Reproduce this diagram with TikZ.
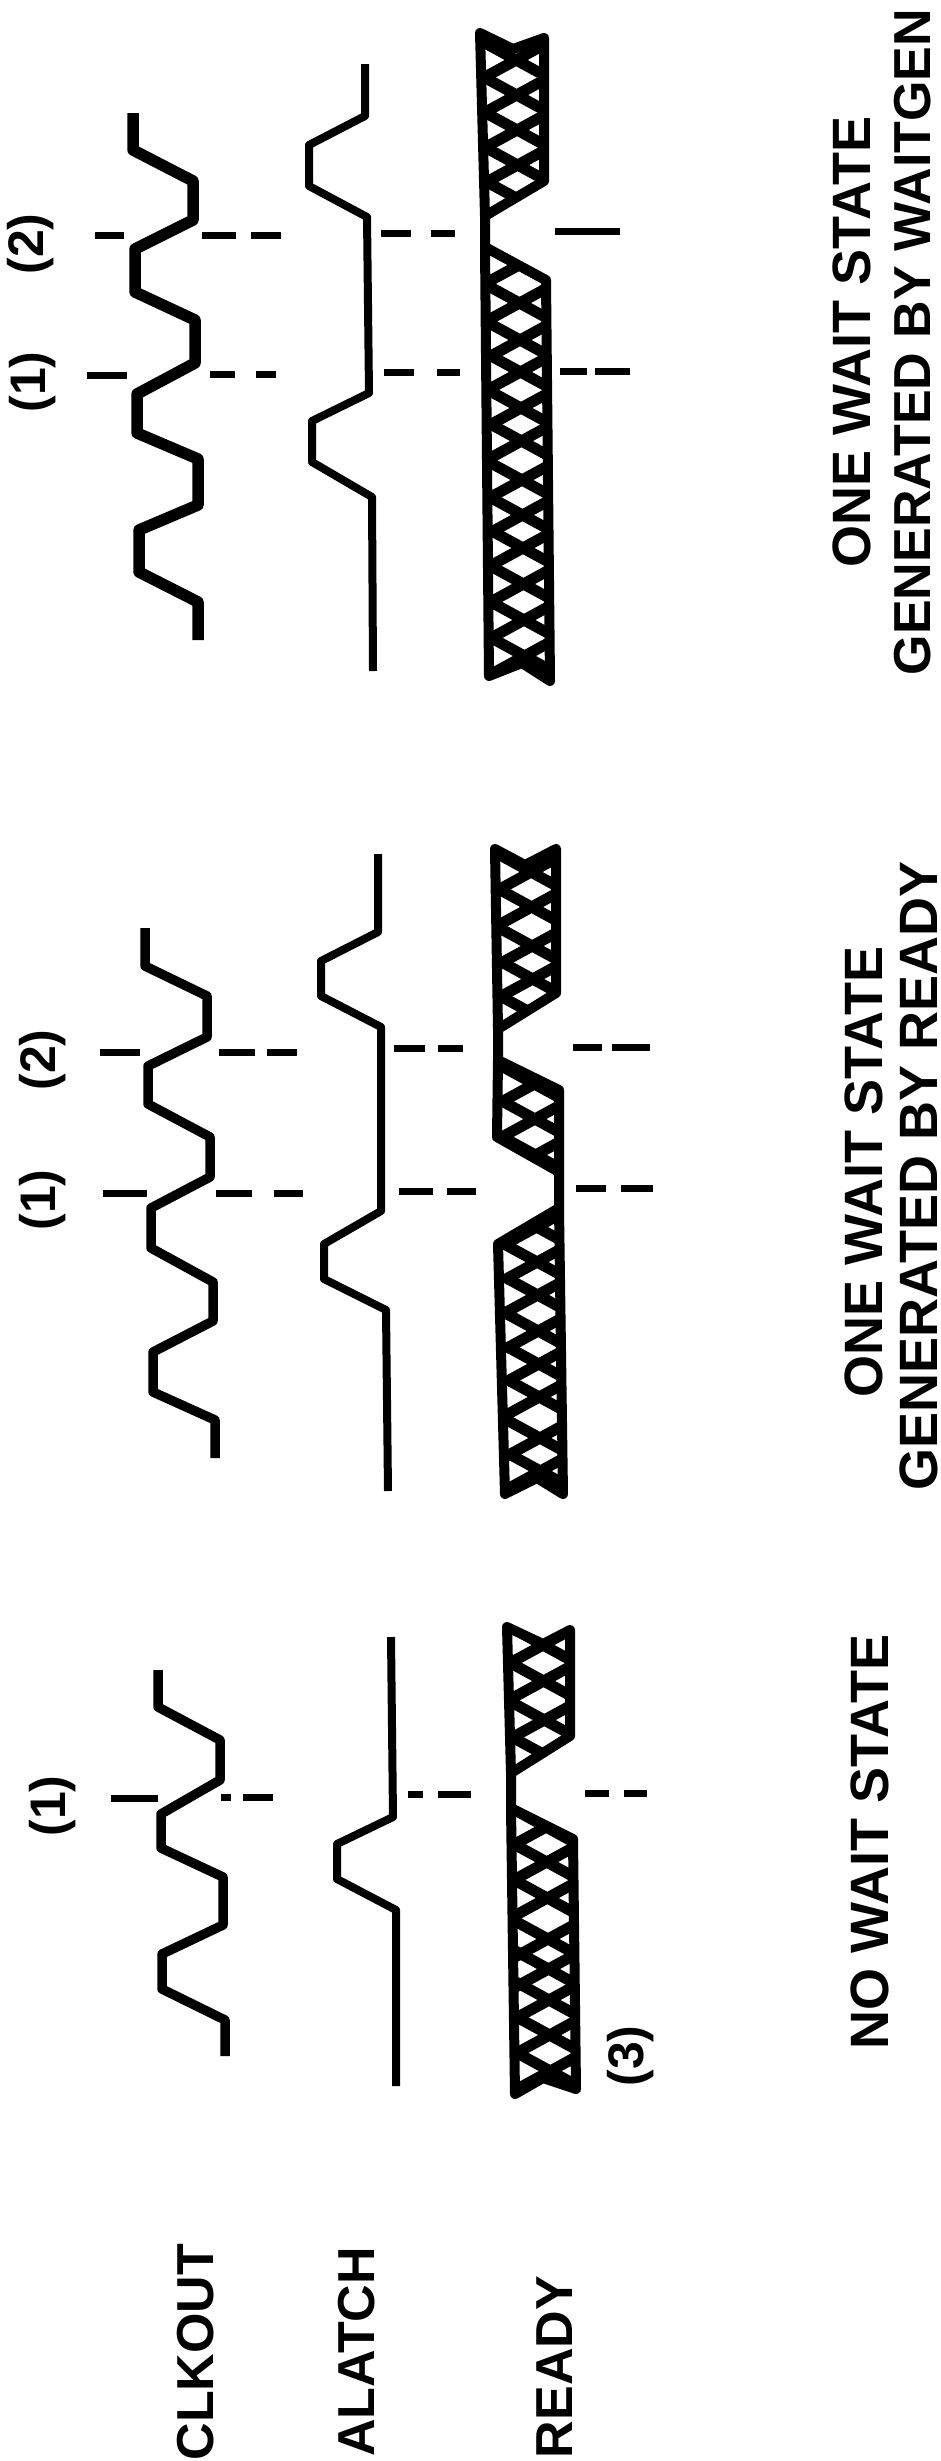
\documentclass[tikz,border=0pt]{standalone}
\usepackage{fontspec}
\setmainfont{Liberation Sans}
\begin{document}
\begin{tikzpicture}[
		x=1pt, y=-1pt,
		wave/.style={line width=9.5pt, line join=round},
		latch/.style={line width=8pt, line join=round},
		band/.style={line width=10pt, line join=round},
		hatch/.style={line width=11pt},
		guide/.style={line width=7pt},
		signal/.style={rotate=90, font=\fontsize{52}{52}\selectfont\bfseries},
		caption/.style={rotate=90, font=\fontsize{54}{54}\selectfont\bfseries},
		note/.style={rotate=90, font=\fontsize{50}{50}\selectfont\bfseries}
	]
	\clip (0,0) rectangle (940,2461);

	% Signal names
	\node[signal] (clkout) at (196,2352) {CLKOUT};
	\node[signal] (alatch) at (357,2352) {ALATCH};
	\node[signal] (ready) at (555,2367) {READY};

	% No wait state
	\draw[wave] (158,1670) -- (158,1707) -- (220,1740) -- (220,1780) -- (161,1814) -- (161,1848) -- (223,1877) -- (223,1925) -- (162,1954) -- (162,1989) -- (225,2020) -- (225,2056);
	\draw[latch] (391,1637) -- (393,1817) -- (337,1844) -- (337,1879) -- (396,1910) -- (396,2086);
	\def\bandlow{(507,1627) -- (543,1644) -- (570,1630) -- (570,1736) -- (511,1773) -- (511,1808) -- (573,1839) -- (576,2089) -- (543,2078) -- (515,2094) -- (511,1808) -- (511,1773)}
	\begin{scope}
		\clip \bandlow -- cycle;
		\foreach \yc [evaluate=\yc as \xc using 510+0.017*(\yc-1627)] in {1627,1663,1702,1737,1809,1844,1880,1921,1951,1982,2017,2053}
			\draw[hatch] (\xc,\yc) -- ++(66,36) ++(0,-36) -- ++(-66,36);
	\end{scope}
	\draw[band] \bandlow -- cycle;
	\draw[guide] (111,1798) -- (158,1798) (221,1797) -- (231,1797) (243,1797) -- (273,1797);
	\draw[guide] (408,1794) -- (423,1794) (438,1794) -- (471,1794);
	\draw[guide] (585,1793) -- (609,1793) (624,1793) -- (647,1793);
	\node[note] (n1a) at (53,1806) {(1)};
	\node[note] (n3) at (631,2056) {(3)};
	\node[caption] (cap1) at (870,1842) {NO WAIT STATE};

	% One wait state by ready
	\draw[wave] (145,928) -- (145,966) -- (207,996) -- (207,1037) -- (148,1066) -- (148,1104) -- (210,1137) -- (210,1177) -- (151,1208) -- (151,1248) -- (213,1282) -- (213,1321) -- (153,1352) -- (153,1392) -- (215,1420) -- (215,1458);
	\draw[latch] (378,854) -- (378,932) -- (321,961) -- (321,996) -- (381,1027) -- (381,1211) -- (324,1244) -- (324,1279) -- (386,1310) -- (388,1491);
	\def\bandmid{(495,849) -- (525,865) -- (556,849) -- (556,993) -- (498,1029) -- (498,1060) -- (559,1090) -- (559,1172) -- (559,1208) -- (498,1244) -- (505,1494) -- (537,1478) -- (563,1494) -- (559,1208) -- (559,1172) -- (497,1137) -- (498,1060) -- (498,1029)}
	\begin{scope}
		\clip \bandmid -- cycle;
		\foreach \yc [evaluate=\yc as \xc using 498+0.0155*(\yc-849)] in {854,889,928,961,996,1066,1101,1137,1209,1244,1277,1313,1346,1379,1420,1453,1488}
			\draw[hatch] (\xc,\yc) -- ++(66,36) ++(0,-36) -- ++(-66,36);
	\end{scope}
	\draw[band] \bandmid -- cycle;
	\draw[guide] (100,1052) -- (140,1052) (219,1052) -- (255,1052) (267,1052) -- (297,1052);
	\draw[guide] (394,1048) -- (425,1048) (438,1048) -- (463,1048);
	\draw[guide] (573,1047) -- (602,1047) (612,1047) -- (650,1047);
	\draw[guide] (103,1193) -- (147,1193) (216,1193) -- (252,1193) (274,1193) -- (303,1193);
	\draw[guide] (399,1191) -- (433,1191) (447,1191) -- (476,1191);
	\draw[guide] (576,1188) -- (606,1188) (621,1188) -- (653,1188);
	\node[note] (n2a) at (43,1200) {(1)};
	\node[note] (n2b) at (43,1060) {(2)};
	\node[caption] (cap2a) at (864,1172) {ONE WAIT STATE};
	\node[caption] (cap2b) at (919,1176) {GENERATED BY READY};

	% One wait state by waitgen
	\draw[wave, line width=11.5pt] (133,113) -- (133,150) -- (193,181) -- (193,220) -- (135,249) -- (135,292) -- (195,320) -- (195,363) -- (137,394) -- (137,433) -- (198,459) -- (198,505) -- (139,530) -- (139,572) -- (198,602) -- (198,640);
	\draw[latch] (365,64) -- (365,116) -- (309,145) -- (309,186) -- (367,217) -- (369,393) -- (312,421) -- (312,462) -- (372,497) -- (373,671);
	\def\bandtop{(480,33) -- (513,49) -- (544,38) -- (544,181) -- (485,216) -- (485,247) -- (546,280) -- (550,681) -- (522,663) -- (489,676) -- (485,247) -- (485,216)}
	\begin{scope}
		\clip \bandtop -- cycle;
		\foreach \yc [evaluate=\yc as \xc using 483+0.014*(\yc-33)] in {42,77,112,147,181,247,285,322,354,390,423,462,497,530,566,602,638}
			\draw[hatch] (\xc,\yc) -- ++(66,36) ++(0,-36) -- ++(-66,36);
	\end{scope}
	\draw[band] \bandtop -- cycle;
	\draw[guide] (95,235) -- (124,235) (202,235) -- (236,235) (251,235) -- (281,235);
	\draw[guide] (381,233) -- (411,233) (431,233) -- (455,233);
	\draw[guide] (555,231) -- (620,231);
	\draw[guide] (87,375) -- (127,375) (210,374) -- (235,374) (256,374) -- (276,374);
	\draw[guide] (384,372) -- (414,372) (437,372) -- (460,372);
	\draw[guide] (560,371) -- (587,371) (595,371) -- (630,371);
	\node[note] (n3a) at (33,382) {(1)};
	\node[note] (n3b) at (31,244) {(2)};
	\node[caption] (cap3a) at (852,342) {ONE WAIT STATE};
	\node[caption, font=\fontsize{52}{52}\selectfont\bfseries] (cap3b) at (913,342) {GENERATED BY WAITGEN};
\end{tikzpicture}
\end{document}
